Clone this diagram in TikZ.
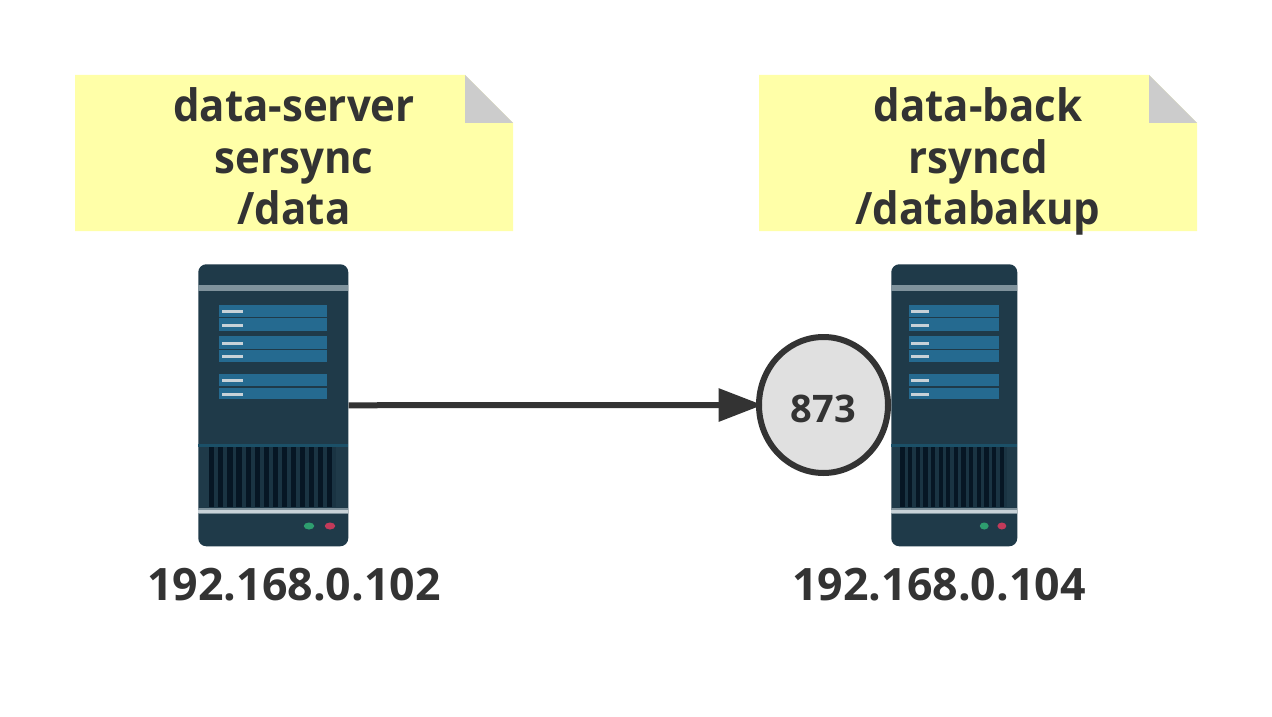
\documentclass[tikz,border=0pt]{standalone}
\usepackage{fontspec}
\setmainfont{Open Sans}[BoldFont={Open Sans Bold}]
\newfontfamily\notefont{Open Sans Bold}[FakeStretch=0.94]
\usetikzlibrary{arrows.meta,shapes.geometric}
\definecolor{ink}{HTML}{333333}
\definecolor{notefill}{HTML}{FFFFA8}
\definecolor{foldgray}{HTML}{CCCCCC}
\definecolor{portgray}{HTML}{E0E0E0}
\definecolor{rackbase}{HTML}{1F3A49}
\definecolor{rackband}{HTML}{7F929C}
\definecolor{rackshine}{HTML}{C8D2D8}
\definecolor{rackbar}{HTML}{256A90}
\definecolor{rackteal}{HTML}{1B5068}
\definecolor{rackdark}{HTML}{061624}
\definecolor{rackvent}{HTML}{1A3443}
\definecolor{rackled}{HTML}{2E9E6F}
\definecolor{rackred}{HTML}{C23A5A}
\tikzset{
  x=0.75pt,y=-0.75pt,
  biglabel/.style={anchor=base,text=ink,font=\fontsize{33.5}{40}\selectfont\bfseries,inner sep=0pt},
  notelabel/.style={anchor=base,text=ink,font=\fontsize{33.5}{40}\notefont,inner sep=0pt},
  portlabel/.style={anchor=base,text=ink,font=\fontsize{28.5}{32}\selectfont\bfseries,inner sep=0pt},
  notebody/.style={fill=notefill,draw=none},
  notefold/.style={fill=foldgray,draw=none},
  portcircle/.style={ellipse,draw=ink,fill=portgray,line width=4.5pt,minimum width=96.75pt,minimum height=102pt,inner sep=0pt},
  rackbox/.style={rectangle,fill=rackbase,rounded corners=6pt,inner sep=0pt,minimum height=211.5pt},
  link/.style={draw=ink,line width=4.5pt,-{Triangle[length=33pt,width=24pt]}},
}
% #1 node name, #2 left px, #3 width px
\newcommand{\rackunit}[3]{%
  \node[rackbox,minimum width=#3*0.75pt,anchor=north west] (#1) at (#2,264) {};
  \begin{scope}[shift={(#2,0)},x=#3*0.75pt]
    \fill[rackband] (0,285) rectangle (1,291);
    \foreach \ya/\yb/\yd in {305/317/311,318/331/325,336/349/343,350/362/356,374/386/380,388/399/394}{
      \fill[rackbar] (0.14,\ya) rectangle (0.86,\yb);
      \fill[rackshine] (0.16,\yd-1.5) rectangle (0.30,\yd+1.5);
    }
    \fill[rackteal] (0,444) rectangle (1,446.5);
    \fill[rackvent] (0.07,447) rectangle (0.92,507);
    \foreach \i in {0,...,13}{
      \fill[rackdark] ({0.075+\i*0.0605},447) rectangle ({0.075+\i*0.0605+0.034},507);
    }
    \fill[rackband] (0,508) rectangle (1,514);
    \fill[rackshine] (0,509.5) rectangle (1,512.5);
    \fill[rackled] (0.74,526) ellipse [x radius=0.035,y radius=3.5];
    \fill[rackred] (0.88,526) ellipse [x radius=0.035,y radius=3.5];
  \end{scope}
}
\begin{document}
\begin{tikzpicture}
\useasboundingbox (0,0) rectangle (1272,717);
\fill[white] (0,0) rectangle (1272,717);
% notes
\fill[notebody] (75,75) -- (465,75) -- (513,123) -- (513,231) -- (75,231) -- cycle;
\fill[notefold] (465,75) -- (513,123) -- (465,123) -- cycle;
\fill[notebody] (759,75) -- (1149,75) -- (1197,123) -- (1197,231) -- (759,231) -- cycle;
\fill[notefold] (1149,75) -- (1197,123) -- (1149,123) -- cycle;
\node[notelabel] (n1a) at (294,122) {data-server};
\node[notelabel] (n1b) at (294,173) {sersync};
\node[notelabel] (n1c) at (294,224) {/data};
\node[notelabel] (n2a) at (978,122) {data-back};
\node[notelabel] (n2b) at (978,173) {rsyncd};
\node[notelabel] (n2c) at (978,224) {/databakup};
% servers
\rackunit{srvA}{198}{150}
\rackunit{srvB}{891}{126}
\node[biglabel] (ipA) at (294,600) {192.168.0.102};
\node[biglabel] (ipB) at (939,600) {192.168.0.104};
% port
\node[portcircle] (port) at (823.5,405) {};
\node[portlabel] (portnum) at (823.5,422.5) {873};
\draw[link,shorten >=-5pt] (srvA.east) -- (port.west);
\end{tikzpicture}
\end{document}
